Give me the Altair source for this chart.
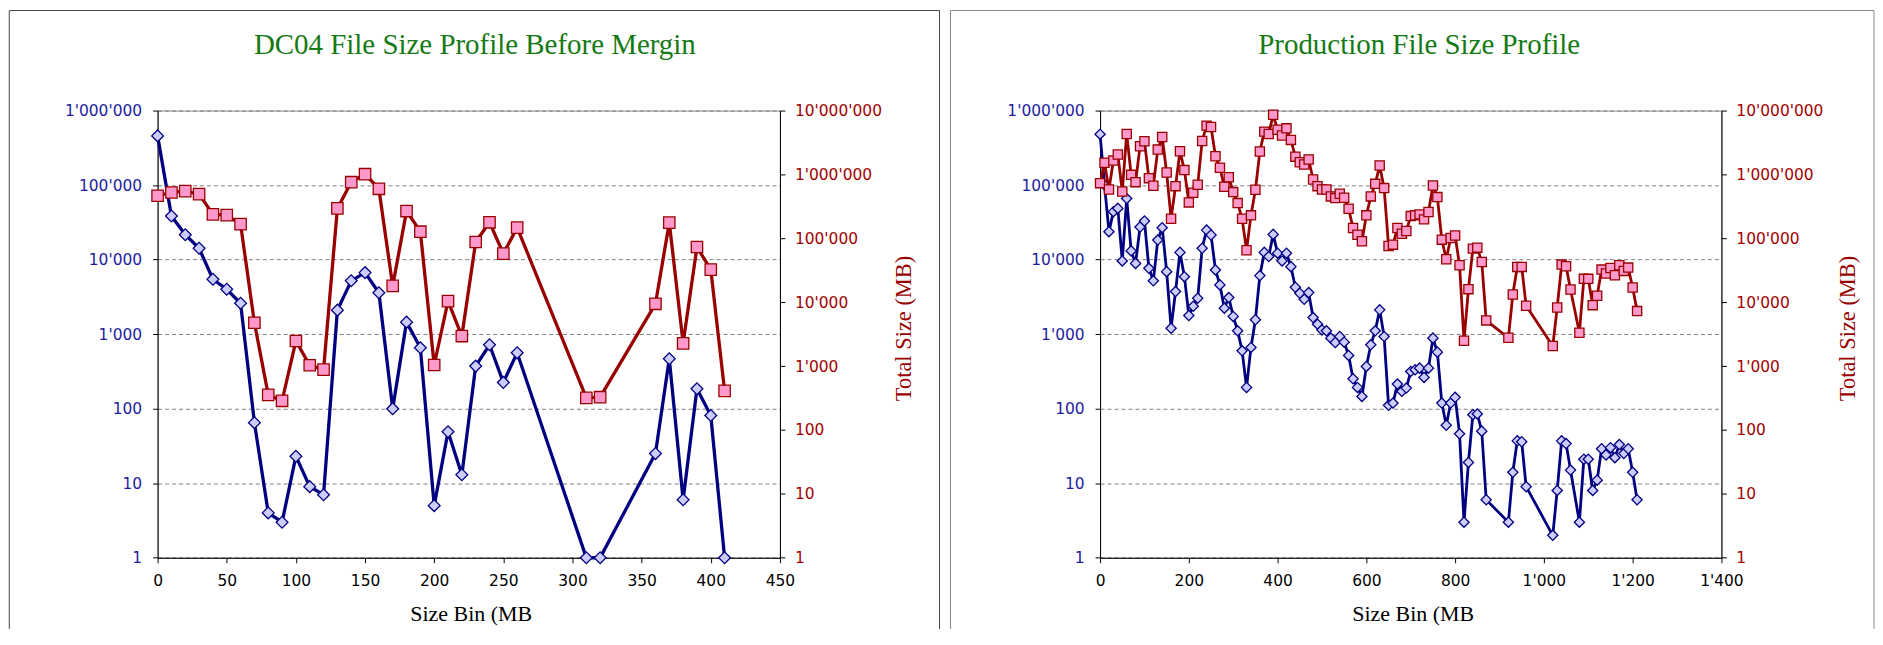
import altair as alt
import pandas as pd

# ---------------- data ----------------
left_bins = [0, 10, 20, 30, 40, 50, 60, 70, 80, 90, 100, 110, 120, 130, 140, 150, 160, 170,
             180, 190, 200, 210, 220, 230, 240, 250, 260, 310, 320, 360, 370, 380, 390, 400, 410]
left_files = [457000, 38500, 21600, 14200, 5450, 4000, 2600, 65, 4, 3, 23, 9, 7, 2100, 5200,
              6700, 3600, 100, 1450, 656, 5, 49, 13, 373, 720, 225, 562, 1, 1, 25, 467, 6, 185, 81, 1]
left_size = [464000, 522000, 548000, 492000, 237000, 231000, 167000, 4770, 354, 286, 2470, 1030,
             881, 294000, 757000, 1010000, 596000, 18000, 267000, 127000, 1040, 10400, 2950, 87700,
             178000, 57600, 147000, 318, 326, 9440, 176000, 2270, 73200, 32400, 409]

right_bins = [0, 10, 20, 30, 40, 50, 60, 70, 80, 90, 100, 110, 120, 130, 140, 150, 160, 170, 180, 190,
              200, 210, 220, 230, 240, 250, 260, 270, 280, 290, 300, 310, 320, 330, 340, 350, 360, 370,
              380, 390, 400, 410, 420, 430, 440, 450, 460, 470, 480, 490, 500, 510, 520, 530, 540, 550,
              560, 570, 580, 590, 600, 610, 620, 630, 640, 650, 660, 670, 680, 690, 700, 710, 720, 730,
              740, 750, 760, 770, 780, 790, 800, 810, 820, 830, 840, 850, 860, 870,
              920, 930, 940, 950, 960,
              1020, 1030, 1040, 1050, 1060,
              1080, 1090, 1100, 1110, 1120, 1130, 1140, 1150, 1160, 1170, 1180, 1190, 1200, 1210]
right_files = [482000, 100000, 23700, 44000, 48700, 9600, 66000, 13100, 8900, 27400,
               33000, 7650, 5200, 18300, 26800, 6900, 1200, 3730, 12500, 5900,
               1780, 2370, 3030, 14200, 24900, 21400, 7270, 4580, 2230, 3100,
               1730, 1110, 598, 193, 663, 1560, 6100, 12500, 11000, 21800,
               12200, 9600, 12200, 8050, 4260, 3540, 2940, 3610, 1670, 1360,
               1140, 1110, 884, 773, 930, 781, 518, 252, 193, 146,
               369, 720, 1110, 2120, 930, 111, 119, 214, 171, 189,
               316, 333, 350, 263, 350, 884, 574, 119, 60, 119,
               142, 46, 3, 19, 83, 85, 50, 6,
               3, 14, 37, 36, 9,
               2, 8, 37, 34, 15,
               3, 21, 21, 8, 11, 29, 24, 30, 22, 33, 25, 29, 14, 6]
right_size = [731000, 1520000, 582000, 1650000, 2050000, 542000, 4300000, 986000, 757000, 2760000,
              3310000, 875000, 664000, 2450000, 3860000, 1070000, 203000, 656000, 2310000, 1170000,
              365000, 517000, 689000, 3340000, 5810000, 5530000, 1930000, 1270000, 640000, 906000,
              529000, 356000, 203000, 65000, 229000, 575000, 2280000, 4680000, 4300000, 8600000,
              5000000, 4060000, 5270000, 3470000, 1900000, 1550000, 1430000, 1710000, 834000, 656000,
              582000, 582000, 453000, 426000, 498000, 431000, 290000, 145000, 114000, 89800,
              229000, 453000, 713000, 1380000, 611000, 75900, 79600, 145000, 118000, 130000,
              223000, 229000, 237000, 198000, 258000, 672000, 442000, 95300, 47000, 101000,
              111000, 37900, 2500, 16000, 69000, 71500, 42700, 5190,
              2780, 13200, 35700, 35700, 8790,
              2060, 8270, 38800, 36600, 15800,
              3330, 23200, 23200, 9000, 12600, 32400, 28100, 34400, 26400, 37900, 30900, 34800, 17000, 7260]

left_x_ticks = [0, 50, 100, 150, 200, 250, 300, 350, 400, 450]
right_x_ticks = [0, 200, 400, 600, 800, 1000, 1200, 1400]
files_ticks = [1, 10, 100, 1000, 10000, 100000, 1000000]
size_ticks = [1, 10, 100, 1000, 10000, 100000, 1000000, 10000000]

LEFT_TITLE = "DC04 File Size Profile Before Merging"
RIGHT_TITLE = "Production File Size Profile"
X_TITLE = "Size Bin (MB"
Y2_TITLE = "Total Size (MB)"

# ---------------- styles ----------------
NAVY = "#000080"
DIAMOND_FILL = "#ccccff"
DARKRED = "#990000"
PINK = "#ff99cc"
BLUE_LBL = "#1c1ca0"
RED_LBL = "#a00000"
GREEN = "#157a15"
FMT = "replace(format(datum.value, ','), regexp(',', 'g'), \"'\")"

PLOT_H = 448.4


def panel(bins, files, size, xmax, xticks, plot_w, title, title_kw, frame, xtitle_x, y2title_x,
          dia_size, sq_size, line_w, frame_color):
    df = pd.DataFrame({"bin": bins, "files": files, "size": size})
    x = alt.X("bin:Q", scale=alt.Scale(domain=[0, xmax], nice=False),
              axis=alt.Axis(values=xticks, labelExpr=FMT, title=X_TITLE, titleX=xtitle_x,
                            titleY=63, titleAlign="center", titleBaseline="alphabetic",
                            labelPadding=11, labelFlush=False, grid=False))
    blue = alt.Chart(df).mark_line(
        color=NAVY, strokeWidth=line_w,
        point=alt.OverlayMarkDef(shape="diamond", size=dia_size, filled=True, fill=DIAMOND_FILL,
                                 stroke=NAVY, strokeWidth=1.3, opacity=1)
    ).encode(
        x=x,
        y=alt.Y("files:Q", scale=alt.Scale(type="log", domain=[1, 1000000], nice=False),
                axis=alt.Axis(values=files_ticks, labelExpr=FMT, title=None, orient="left",
                              grid=True, gridDash=[4, 3], gridColor="#808080", gridWidth=1,
                              labelColor=BLUE_LBL, labelPadding=11, labelFlush=False)),
    )
    red = alt.Chart(df).mark_line(
        color=DARKRED, strokeWidth=line_w,
        point=alt.OverlayMarkDef(shape="square", size=sq_size, filled=True, fill=PINK,
                                 stroke=DARKRED, strokeWidth=1.3, opacity=1)
    ).encode(
        x=x,
        y=alt.Y("size:Q", scale=alt.Scale(type="log", domain=[1, 10000000], nice=False),
                axis=alt.Axis(values=size_ticks, labelExpr=FMT, title=Y2_TITLE, orient="right",
                              grid=False, labelColor=RED_LBL, labelPadding=9.5, labelFlush=False,
                              titleColor=DARKRED, titleAngle=270, titleX=y2title_x, titleY=218,
                              titleFontSize=22.5,
                              titleAlign="center", titleBaseline="alphabetic")),
    )
    ttl = alt.Chart(pd.DataFrame({"t": [title]})).mark_text(
        font="Liberation Serif", fontSize=29, color=GREEN, baseline="alphabetic", **title_kw
    ).encode(x=alt.value(frame["tx"]), y=alt.value(-57), text="t:N")

    one = pd.DataFrame({"a": [0]})
    fl, fr, ft, fb = frame["l"], frame["r"], frame["t"], frame["b"]
    left_edge = alt.Chart(one).mark_rule(color=frame_color, strokeWidth=1).encode(
        x=alt.value(fl), y=alt.value(ft), y2=alt.value(fb))
    right_edge = alt.Chart(one).mark_rule(color=frame_color, strokeWidth=1).encode(
        x=alt.value(fr), y=alt.value(ft), y2=alt.value(fb))
    top_edge = alt.Chart(one).mark_rule(color=frame_color, strokeWidth=1).encode(
        x=alt.value(fl), x2=alt.value(fr), y=alt.value(ft))

    return alt.layer(blue, red, ttl, left_edge, right_edge, top_edge).resolve_scale(
        y="independent").properties(width=plot_w, height=PLOT_H)


left = panel(left_bins, left_files, left_size, 450, left_x_ticks, 624, LEFT_TITLE,
             {"align": "left", "limit": 447, "ellipsis": "\u200b"},
             {"l": -148.7, "r": 784, "t": -100.3, "b": 519.7, "tx": 96.6},
             314, 131, 140, 130, 3.3, "#444444")
right = panel(right_bins, right_files, right_size, 1400, right_x_ticks, 623, RIGHT_TITLE,
              {"align": "center"},
              {"l": -150, "r": 776, "t": -100.3, "b": 519.7, "tx": 320},
              313.5, 133, 105, 85, 2.8, "#888888")

chart = alt.hconcat(left, right, spacing=9).properties(
    padding=0, background="white"
).configure_axis(
    domainColor="black", domainWidth=1, tickColor="black", tickSize=5, tickWidth=1,
    labelFont="DejaVu Sans", labelFontSize=15.5, labelColor="black",
    titleFont="Liberation Serif", titleFontSize=22, titleFontWeight="normal", titleColor="black",
).configure_view(stroke="#888888", strokeWidth=1)

chart.save("out.html", embed_options={"renderer": "svg", "actions": False})
